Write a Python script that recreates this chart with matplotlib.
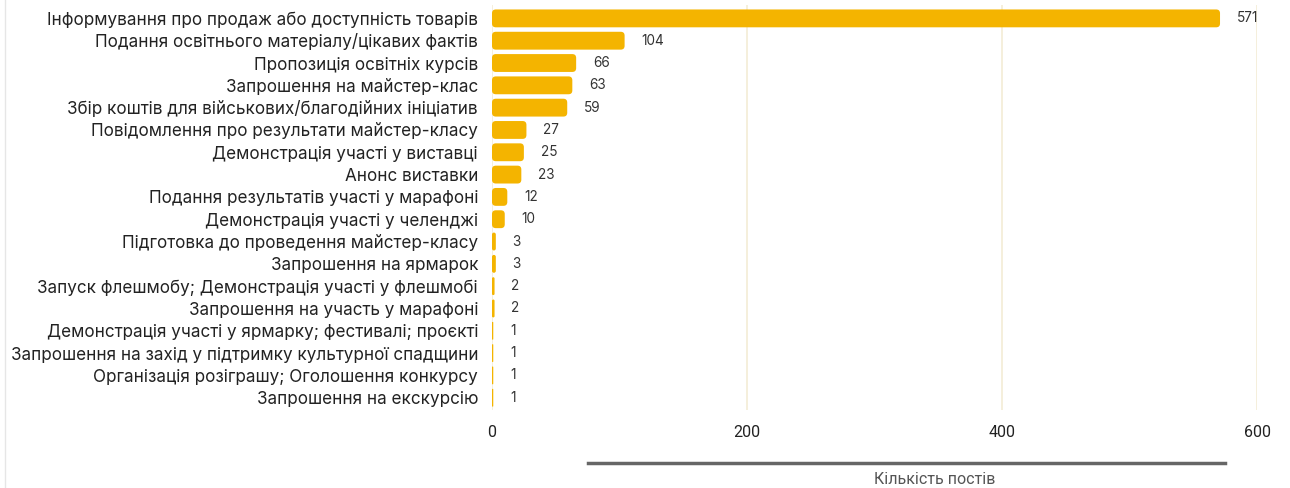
import matplotlib.pyplot as plt
from matplotlib.lines import Line2D
from matplotlib.patches import FancyBboxPatch

categories = [
    "Інформування про продаж або доступність товарів",
    "Подання освітнього матеріалу/цікавих фактів",
    "Пропозиція освітніх курсів",
    "Запрошення на майстер-клас",
    "Збір коштів для військових/благодійних ініціатив",
    "Повідомлення про результати майстер-класу",
    "Демонстрація участі у виставці",
    "Анонс виставки",
    "Подання результатів участі у марафоні",
    "Демонстрація участі у челенджі",
    "Підготовка до проведення майстер-класу",
    "Запрошення на ярмарок",
    "Запуск флешмобу; Демонстрація участі у флешмобі",
    "Запрошення на участь у марафоні",
    "Демонстрація участі у ярмарку; фестивалі; проєкті",
    "Запрошення на захід у підтримку культурної спадщини",
    "Організація розіграшу; Оголошення конкурсу",
    "Запрошення на екскурсію",
]
counts = [571, 104, 66, 63, 59, 27, 25, 23, 12, 10, 3, 3, 2, 2, 1, 1, 1, 1]
x_ticks = [0, 200, 400, 600]
x_title = "Кількість постів"

fig = plt.figure(figsize=(12.9, 4.88), dpi=100)
ax = fig.add_axes([492 / 1290, 1 - 410 / 488, (1257 - 492) / 1290, 405 / 488])

y = list(range(len(categories)))
bars = ax.barh(y, counts, height=0.8, color="#F4B400", zorder=3)

ax.set_xlim(0, 600)
ax.set_ylim(17.55, -0.6)

# swap plain bars for rounded ones (same geometry)
px_x = 600 / (1257 - 492)      # data units per pixel, x
px_y = 18.15 / 405             # data units per pixel, y
aspect = px_y / px_x
for b in bars:
    bx, by, bw, bh = b.get_x(), b.get_y(), b.get_width(), b.get_height()
    r = min(3.0, bw / 2)
    b.set_visible(False)
    ax.add_patch(FancyBboxPatch((bx, by), bw, bh,
                                boxstyle=f"round,pad=0,rounding_size={r}",
                                mutation_aspect=aspect, facecolor="#F4B400",
                                edgecolor="none", zorder=3))

for yi, v in zip(y, counts):
    ax.annotate(str(v), (v, yi), xytext=(12, 0), textcoords="offset points",
                ha="left", va="center", fontsize=9.8, color="#333333",
                family="Inter")

ax.set_xticks(x_ticks)
ax.set_xticklabels([str(t) for t in x_ticks], family="Roboto", fontsize=11.5, color="#222222")
ax.set_yticks(y)
ax.set_yticklabels(categories, family="Inter", fontsize=12.3, color="#222222")
ax.tick_params(axis="both", length=0)
ax.tick_params(axis="y", pad=10)
ax.tick_params(axis="x", pad=11)
ax.grid(axis="x", color="#f3ecd6", linewidth=1.2, zorder=0)
for s in ax.spines.values():
    s.set_visible(False)

# axis title bar and text below the plot
fig.add_artist(Line2D([588 / 1290, 1225 / 1290], [1 - 463 / 488] * 2,
                      transform=fig.transFigure, color="#666666", linewidth=2.5))
fig.text(935 / 1290, 1 - 479 / 488, x_title, ha="center", va="center",
         family="Roboto", fontsize=11.5, color="#555555")

# faint frame border at left
fig.add_artist(Line2D([5 / 1290, 5 / 1290], [0, 1], transform=fig.transFigure,
                      color="#e6e6e6", linewidth=1))

fig.savefig("out.png", dpi=100)
